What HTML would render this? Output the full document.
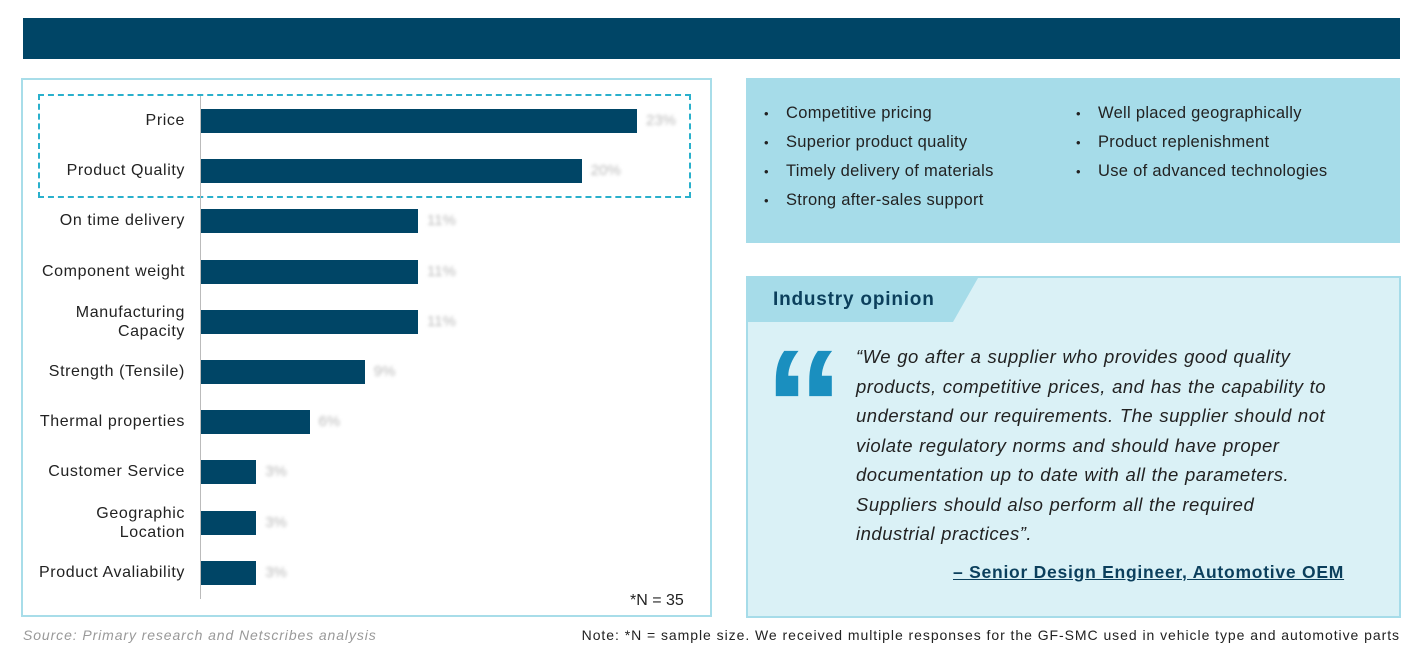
<!DOCTYPE html>
<html><head><meta charset="utf-8">
<style>
*{margin:0;padding:0;box-sizing:border-box}
body{width:1423px;height:657px;background:#fff;position:relative;overflow:hidden;font-family:"Liberation Sans",sans-serif;color:#222}
.abs{position:absolute}
.lbl{position:absolute;right:1238px;font-size:16px;text-align:right;line-height:19px;color:#222;letter-spacing:0.6px;white-space:nowrap}
.val{position:absolute;font-size:15px;color:#bbb;filter:blur(1.5px)}
ul.b{list-style:none;font-size:16.5px;line-height:29px;color:#222;letter-spacing:0.3px}
ul.b li:before{content:"•";display:inline-block;width:22px;font-size:13px}
</style></head><body>
<div class="abs" style="left:23px;top:18px;width:1377px;height:41px;background:#004566"></div>
<div class="abs" style="left:21px;top:78px;width:691px;height:539px;border:2px solid #a8dde9"></div>
<div class="abs" style="left:38px;top:94px;width:653px;height:104px;border:2px dashed #2ab0cc"></div>
<div class="abs" style="left:200px;top:96px;width:1px;height:503px;background:#bbb"></div>
<div id="chart"></div>
<div class="abs" style="left:630px;top:592px;font-size:16px">*N = 35</div>
<div class="abs" style="left:746px;top:78px;width:654px;height:165px;background:#a6dce9">
<ul class="b" style="position:absolute;left:18px;top:21px"><li>Competitive pricing</li><li>Superior product quality</li><li>Timely delivery of materials</li><li>Strong after-sales support</li></ul>
<ul class="b" style="position:absolute;left:330px;top:21px"><li>Well placed geographically</li><li>Product replenishment</li><li>Use of advanced technologies</li></ul>
</div>
<div class="abs" style="left:746px;top:276px;width:655px;height:342px;background:#daf1f6;border:2px solid #a6dce9"></div>
<div class="abs" style="left:748px;top:278px;width:230px;height:44px;background:#a6dce9;clip-path:polygon(0 0,100% 0,205px 100%,0 100%)"></div>
<div class="abs" style="left:773px;top:289px;font-size:19px;font-weight:bold;color:#0b3f5c;letter-spacing:0.8px">Industry opinion</div>
<div class="abs" style="left:764px;top:326px;font-size:160px;font-weight:bold;color:#1a8fbf;font-family:'Liberation Sans',sans-serif;line-height:160px;letter-spacing:-6px">“</div>
<div class="abs" style="left:856px;top:342px;width:500px;font-size:18.5px;font-style:italic;line-height:29.5px;color:#222;letter-spacing:0.5px;word-spacing:0.5px">“We go after a supplier who provides good quality<br>products, competitive prices, and has the capability to<br>understand our requirements. The supplier should not<br>violate regulatory norms and should have proper<br>documentation up to date with all the parameters.<br>Suppliers should also perform all the required<br>industrial practices”.</div>
<div class="abs" style="left:953px;top:562px;font-size:17.5px;font-weight:bold;color:#0b3f5c;text-decoration:underline;letter-spacing:0.75px">– Senior Design Engineer, Automotive OEM</div>
<div class="abs" style="left:23px;top:627px;font-size:14px;font-style:italic;color:#999;letter-spacing:0.9px">Source: Primary research and Netscribes analysis</div>
<div class="abs" style="right:23px;top:627px;font-size:14px;color:#222;letter-spacing:0.95px">Note: *N = sample size. We received multiple responses for the GF-SMC used in vehicle type and automotive parts</div>
<script>
const categories=["Price","Product Quality","On time delivery","Component weight","Manufacturing<br>Capacity","Strength (Tensile)","Thermal properties","Customer Service","Geographic<br>Location","Product Avaliability"];
const values=[22.9,20,11.4,11.4,11.4,8.6,5.7,2.9,2.9,2.9];
const valueLabels=["23%","20%","11%","11%","11%","9%","6%","3%","3%","3%"];
const x0=201,pxPer=436/22.9,y0=121,step=50.2;
const c=document.getElementById('chart');
categories.forEach((cat,i)=>{
 const cy=y0+i*step,w=values[i]*pxPer;
 const b=document.createElement('div');b.className='abs';
 
 
 b.style.cssText=`left:${x0}px;top:${cy-12}px;width:${w}px;height:24px;background:#004566`;
 c.appendChild(b);
 const l=document.createElement('div');l.className='lbl';
 
 
 const two=cat.includes('<br>');
 l.style.top=(cy-(two?19:10))+'px';l.innerHTML=cat;c.appendChild(l);
 const v=document.createElement('div');v.className='val';
 
 
 v.style.left=(x0+w+9)+'px';v.style.top=(cy-9)+'px';v.textContent=valueLabels[i];c.appendChild(v);
});
</script>
</body></html>
